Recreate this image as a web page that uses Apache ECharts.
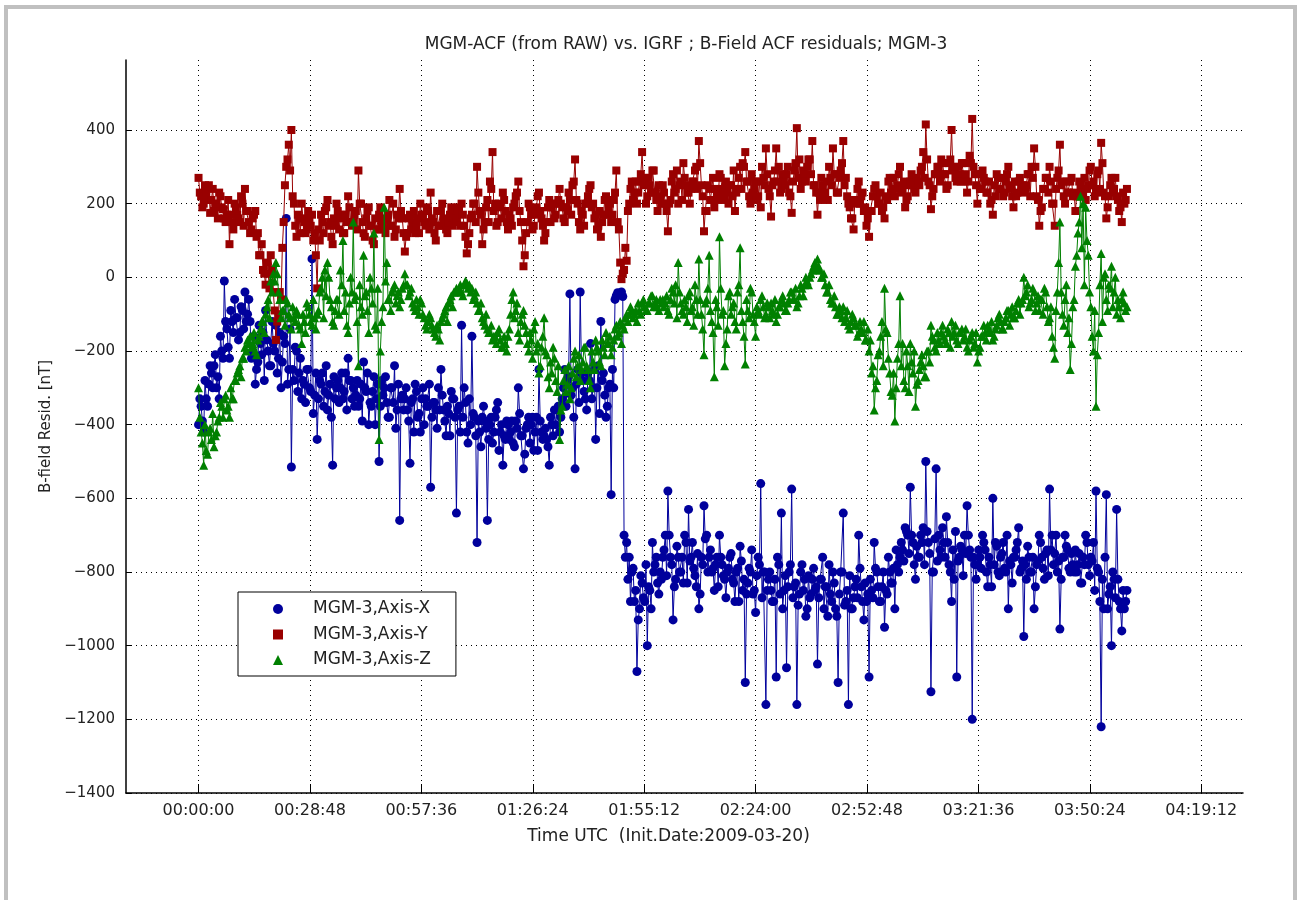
<!DOCTYPE html>
<html>
<head>
<meta charset="utf-8">
<title>MGM-ACF vs. IGRF residuals</title>
<script src="https://cdn.jsdelivr.net/npm/echarts@6/dist/echarts.min.js"></script>
<style>
  html, body { margin: 0; padding: 0; background: #fff; }
  #frame {
    position: absolute; left: 4px; top: 5px; width: 1293px; height: 1000px;
    box-sizing: border-box; border: 4px solid #c0c0c0; border-bottom: none;
  }
  #chart { position: absolute; left: 0; top: 0; width: 1297px; height: 900px; }
</style>
</head>
<body>
<div id="frame"></div>
<div id="chart"></div>
<script>
// readings every 40 s from 00:00:00, plus the readings half way (20 s later)
const SAMPLE_STEP = 40

const seriesNames = ['MGM-3,Axis-X', 'MGM-3,Axis-Y', 'MGM-3,Axis-Z']

// residuals [nT]
const axisX = [
  -400, -350, -420, -330, -290, -260, -240, -300, -330, -200, -10, -140, -220, -120, -60, -110, -150, -90, -40, -100,
  -120, -200, -290, -230, -180, -150, -90, -200, -240, -180, -130, -220, -300, -160, 160, -250, -515, -280, -200, -260,
  -330, -290, -250, -300, 50, -320, -440, -280, -260, -310, -360, -290, -510, -330, -280, -300, -330, -260, -220, -280,
  -300, -320, -350, -290, -230, -310, -400, -350, -270, -330, -500, -280, -300, -340, -380, -300, -240, -360, -660, -320,
  -330, -360, -505, -330, -290, -380, -420, -300, -330, -350, -570, -340, -360, -300, -250, -360, -430, -370, -310, -330,
  -640, -350, -130, -300, -420, -330, -160, -380, -720, -420, -380, -390, -660, -400, -450, -380, -340, -420, -510, -440,
  -400, -420, -450, -390, -300, -430, -520, -410, -380, -400, -470, -380, -250, -420, -430, -440, -510, -400, -360, -360,
  -420, -330, -250, -280, -45, -300, -520, -250, -40, -280, -330, -260, -180, -300, -440, -240, -120, -260, -380, -300,
  -590, -300, -50, -45, -40, -700, -720, -760, -800, -880, -1070, -900, -830, -880, -1000, -850, -720, -780, -830, -800,
  -760, -700, -580, -760, -930, -820, -760, -800, -830, -720, -630, -760, -790, -840, -900, -760, -620, -700, -760, -800,
  -850, -760, -700, -780, -820, -800, -760, -820, -880, -790, -730, -850, -1100, -830, -800, -860, -910, -760, -560, -800,
  -1160, -820, -850, -880, -1085, -780, -640, -850, -1060, -800, -575, -840, -1160, -860, -780, -820, -900, -870, -820, -850,
  -1050, -820, -760, -840, -920, -860, -800, -900, -1100, -800, -640, -880, -1160, -900, -870, -820, -700, -840, -930, -880,
  -1085, -850, -720, -800, -880, -840, -950, -860, -800, -830, -900, -780, -760, -740, -680, -700, -570, -720, -820, -760,
  -700, -680, -500, -720, -1125, -800, -520, -700, -760, -720, -650, -780, -880, -820, -1085, -760, -740, -700, -620, -740,
  -1200, -780, -780, -760, -700, -740, -840, -780, -600, -720, -800, -760, -720, -800, -900, -780, -760, -740, -680, -790,
  -975, -820, -760, -800, -900, -780, -700, -760, -820, -740, -575, -700, -750, -800, -955, -760, -700, -740, -800, -780,
  -740, -780, -830, -760, -700, -780, -760, -720, -580, -800, -1220, -900, -590, -860, -1000, -820, -630, -880, -960, -900,
  -850
]
const axisXMid = [
  -330, -390, -280, -350, -240, -300, -210, -270, -160, -220, -120, -190, -90, -150, -110, -170, -80, -140, -120, -60,
  -220, -160, -250, -130, -210, -280, -170, -240, -120, -200, -260, -150, -230, -180, -290, -140, -250, -190, -310, -220,
  -280, -340, -250, -310, -370, -260, -330, -290, -350, -240, -320, -380, -270, -300, -340, -260, -310, -360, -280, -330,
  -350, -280, -330, -390, -300, -260, -340, -310, -400, -290, -350, -320, -270, -380, -300, -340, -410, -290, -330, -360,
  -300, -390, -340, -420, -310, -370, -330, -400, -350, -290, -380, -340, -410, -360, -320, -390, -350, -430, -330, -380,
  -360, -420, -380, -340, -450, -400, -370, -430, -390, -460, -350, -410, -440, -380, -420, -360, -470, -400, -430, -390,
  -440, -390, -460, -410, -370, -430, -480, -400, -450, -380, -420, -470, -390, -440, -410, -460, -380, -430, -400, -350,
  -380, -300, -350, -270, -320, -380, -290, -340, -260, -310, -360, -280, -330, -250, -300, -370, -280, -320, -350, -290,
  -250, -60, -42, -48, -52, -760, -820, -880, -790, -850, -930, -810, -870, -780, -840, -900, -800, -760, -860, -820,
  -740, -810, -700, -780, -840, -730, -800, -760, -700, -830, -770, -720, -810, -750, -860, -780, -710, -800, -740, -790,
  -780, -840, -760, -810, -870, -790, -750, -830, -800, -880, -770, -820, -860, -790, -740, -850, -810, -780, -870, -800,
  -850, -800, -880, -820, -760, -860, -900, -810, -840, -780, -870, -830, -890, -800, -850, -920, -810, -860, -790, -840,
  -870, -820, -900, -840, -780, -880, -830, -920, -860, -800, -890, -850, -810, -900, -840, -870, -790, -880, -830, -860,
  -820, -870, -790, -840, -880, -800, -850, -760, -830, -790, -740, -800, -720, -770, -690, -750, -700, -780, -730, -760,
  -720, -780, -690, -750, -800, -710, -770, -740, -680, -760, -720, -800, -740, -690, -770, -730, -810, -750, -700, -760,
  -760, -820, -740, -790, -720, -800, -760, -840, -780, -730, -810, -750, -790, -700, -770, -830, -760, -720, -800, -770,
  -780, -730, -800, -760, -840, -770, -720, -790, -750, -810, -740, -780, -700, -770, -820, -760, -730, -790, -750, -800,
  -800, -750, -830, -780, -720, -810, -770, -850, -790, -880, -820, -760, -900, -840, -800, -870, -820, -900, -850, -880
]

const axisY = [
  270, 220, 200, 230, 250, 210, 180, 200, 230, 190, 160, 170, 90, 150, 200, 170, 150, 200, 240, 180,
  120, 160, 180, 120, 60, 20, -20, 10, 60, -40, -170, -100, -60, 150, 300, 360, 400, 200, 110, 160,
  200, 150, 130, 160, 170, 120, -30, 100, 150, 180, 210, 150, 90, 140, 180, 160, 120, 170, 220, 150,
  150, 180, 290, 200, 120, 160, 190, 140, 90, 130, 170, 150, 130, 160, 210, 140, 110, 170, 240, 160,
  70, 120, 170, 150, 120, 160, 200, 170, 140, 180, 230, 150, 100, 140, 180, 160, 130, 150, 190, 170,
  150, 180, 200, 140, 65, 120, 170, 200, 300, 180, 90, 150, 210, 260, 340, 200, 150, 190, 230, 180,
  130, 160, 190, 220, 260, 150, 30, 120, 200, 170, 140, 190, 230, 160, 100, 150, 210, 190, 160, 200,
  240, 190, 150, 180, 210, 250, 320, 200, 130, 170, 200, 220, 250, 200, 170, 140, 110, 170, 220, 190,
  150, 210, 290, 130, -5, 20, 45, 200, 260, 230, 200, 260, 340, 270, 220, 250, 290, 230, 180, 220,
  250, 200, 125, 210, 280, 240, 200, 260, 310, 250, 230, 240, 260, 300, 370, 250, 125, 180, 240, 210,
  190, 230, 280, 240, 210, 230, 250, 220, 180, 240, 300, 310, 340, 260, 200, 230, 260, 220, 190, 270,
  350, 240, 165, 260, 350, 300, 240, 260, 280, 230, 175, 290, 405, 320, 260, 280, 300, 320, 370, 250,
  170, 210, 250, 230, 210, 270, 350, 280, 230, 290, 370, 270, 200, 160, 130, 200, 260, 220, 180, 140,
  110, 180, 240, 220, 200, 180, 160, 210, 270, 240, 220, 250, 300, 240, 190, 220, 260, 250, 230, 260,
  290, 340, 415, 260, 185, 240, 280, 300, 320, 280, 240, 310, 400, 300, 260, 280, 310, 260, 230, 330,
  430, 280, 200, 240, 290, 260, 230, 200, 170, 220, 270, 240, 220, 260, 300, 240, 190, 220, 260, 240,
  230, 250, 280, 300, 350, 220, 140, 190, 240, 270, 300, 200, 140, 270, 360, 260, 200, 230, 260, 220,
  180, 220, 250, 230, 210, 250, 300, 260, 230, 290, 365, 230, 160, 220, 270, 240, 220, 180, 150, 200,
  240
]
const axisYMid = [
  230, 190, 250, 210, 175, 240, 200, 160, 220, 185, 150, 210, 170, 130, 190, 160, 220, 140, 180, 150,
  130, 170, 110, 60, 90, 10, 40, -30, 20, -90, -120, -40, 80, 250, 320, 290, 220, 140, 170, 120,
  160, 120, 180, 140, 100, 60, 130, 170, 120, 190, 140, 110, 160, 200, 130, 170, 120, 150, 190, 140,
  170, 130, 200, 150, 110, 180, 140, 100, 160, 130, 190, 150, 120, 170, 140, 200, 130, 160, 180, 120,
  110, 160, 130, 180, 140, 120, 170, 150, 190, 130, 160, 120, 180, 140, 200, 150, 120, 170, 140, 160,
  190, 140, 170, 110, 90, 160, 200, 150, 230, 170, 130, 190, 150, 240, 180, 140, 200, 160, 210, 150,
  170, 140, 200, 230, 180, 100, 60, 150, 190, 130, 170, 220, 180, 140, 120, 190, 150, 200, 170, 210,
  200, 160, 190, 230, 170, 260, 210, 150, 180, 140, 200, 240, 190, 160, 130, 180, 150, 210, 170, 200,
  170, 230, 150, 40, 10, 80, 180, 240, 210, 260, 230, 280, 250, 200, 270, 230, 290, 210, 250, 200,
  230, 180, 200, 260, 230, 290, 250, 210, 270, 230, 200, 260, 290, 240, 310, 220, 180, 250, 210, 270,
  240, 210, 270, 230, 260, 200, 250, 290, 230, 270, 240, 300, 260, 220, 280, 240, 210, 260, 300, 250,
  280, 220, 250, 290, 260, 230, 280, 250, 300, 220, 260, 310, 270, 240, 290, 260, 320, 280, 250, 230,
  230, 270, 220, 260, 300, 250, 280, 230, 270, 310, 250, 220, 190, 160, 210, 240, 200, 230, 190, 160,
  180, 220, 250, 200, 230, 190, 220, 260, 230, 270, 240, 280, 230, 260, 210, 250, 280, 240, 270, 250,
  300, 270, 320, 250, 220, 280, 300, 260, 310, 280, 250, 320, 290, 270, 300, 260, 310, 280, 260, 310,
  300, 250, 280, 240, 270, 230, 260, 210, 250, 280, 240, 270, 230, 280, 250, 220, 260, 230, 270, 250,
  240, 280, 220, 270, 300, 210, 180, 240, 270, 230, 260, 200, 240, 290, 250, 220, 260, 230, 270, 230,
  220, 260, 230, 270, 240, 290, 250, 220, 280, 240, 310, 220, 190, 250, 230, 270, 210, 190, 230, 210
]

const axisZ = [
  -300, -420, -510, -470, -420, -440, -460, -420, -380, -350, -330, -360, -380, -330, -280, -260, -240, -220, -190, -170,
  -160, -180, -200, -170, -140, -120, -100, -60, -10, 10, 40, -40, -110, -90, -60, -100, -140, -110, -90, -130,
  -180, -120, -70, -100, -130, -110, -100, -40, 0, 20, 40, -60, -120, -90, -60, 20, 100, -40, -150, 0,
  150, -50, -240, -80, 60, -40, -150, -30, 120, -140, -440, -120, 190, 40, -60, -40, -20, -50, -80, -30,
  10, -20, -40, -70, -90, -80, -60, -100, -130, -120, -110, -140, -160, -140, -120, -100, -80, -70, -50, -40,
  -30, -30, -40, -20, -15, -20, -30, -50, -70, -90, -110, -130, -140, -150, -170, -160, -150, -170, -190, -180,
  -160, -100, -40, -90, -150, -120, -90, -150, -200, -170, -140, -200, -260, -190, -110, -210, -300, -260, -220, -310,
  -440, -350, -250, -290, -330, -260, -200, -240, -280, -230, -190, -250, -300, -230, -170, -200, -240, -190, -150, -180,
  -210, -170, -130, -150, -180, -140, -100, -100, -90, -100, -120, -90, -70, -80, -90, -70, -50, -70, -80, -60,
  -60, -70, -90, -60, -40, -20, 40, -70, -100, -80, -50, -90, -130, -60, 50, -100, -210, -60, 60, -120,
  -270, -80, 110, -100, -240, -140, -40, -80, -120, -40, 80, -120, -235, -90, -30, -100, -160, -90, -60, -80,
  -100, -80, -70, -100, -120, -80, -60, -70, -90, -60, -40, -60, -80, -50, -30, -20, -10, 0, 20, 40,
  50, 20, 0, -20, -40, -60, -70, -80, -100, -90, -80, -110, -130, -120, -110, -130, -150, -140, -120, -170,
  -200, -260, -360, -280, -200, -120, -30, -150, -260, -320, -390, -220, -50, -180, -300, -240, -180, -260, -350, -280,
  -230, -240, -270, -200, -130, -170, -200, -170, -150, -160, -180, -150, -120, -150, -170, -150, -140, -160, -190, -170,
  -150, -180, -230, -190, -160, -150, -130, -150, -170, -140, -110, -120, -140, -110, -90, -100, -110, -90, -60, -70,
  0, -40, -80, -60, -40, -70, -90, -60, -30, -80, -110, -160, -220, -40, 150, -100, -60, -150, -250, -80,
  30, 120, 220, 200, 190, 60, -80, -200, -350, -150, 65, 0, -60, -20, 30, -40, -100, -80, -60, -70,
  -80
]
const axisZMid = [
  -380, -450, -400, -480, -410, -370, -430, -390, -340, -380, -320, -350, -300, -330, -280, -250, -270, -220, -200, -180,
  -190, -150, -210, -160, -120, -150, -80, -110, -40, -10, 10, -60, -90, -130, -70, -110, -80, -120, -100, -140,
  -100, -150, -80, -120, -60, -140, -90, -30, -110, -50, 0, -80, -130, -60, -100, -20, -90, -130, -70, -40,
  -60, -120, -20, -100, -50, -90, 0, -70, -130, -30, -200, -80, -10, -60, -90, -30, -70, -40, -60, -20,
  -20, -50, -30, -80, -60, -100, -70, -110, -140, -100, -130, -150, -130, -170, -110, -90, -120, -60, -80, -40,
  -40, -20, -50, -10, -30, -40, -60, -40, -90, -70, -120, -100, -150, -130, -160, -180, -140, -190, -160, -200,
  -140, -60, -110, -70, -170, -100, -130, -180, -150, -220, -120, -180, -240, -160, -200, -270, -230, -190, -280, -240,
  -360, -280, -310, -240, -300, -220, -270, -210, -250, -190, -240, -280, -200, -250, -190, -230, -170, -210, -180, -160,
  -190, -140, -160, -120, -130, -110, -120, -80, -110, -90, -70, -100, -60, -90, -70, -50, -80, -60, -90, -70,
  -80, -50, -100, -30, -70, -110, -40, -90, -60, -120, -40, -80, -20, -100, -60, -140, -70, -30, -90, -150,
  -60, -130, -30, -90, -180, -50, -100, -70, -140, -20, -90, -160, -60, -110, -40, -120, -80, -100, -50, -110,
  -70, -110, -90, -60, -100, -80, -50, -90, -70, -40, -60, -30, -70, -20, -50, 0, -20, 10, 30, 20,
  30, 0, 10, -40, -20, -70, -50, -100, -80, -110, -120, -90, -140, -100, -130, -160, -120, -150, -170, -140,
  -170, -240, -300, -210, -160, -240, -140, -220, -310, -260, -300, -180, -240, -280, -200, -310, -230, -200, -290, -250,
  -210, -270, -200, -230, -160, -190, -150, -180, -130, -170, -140, -190, -160, -130, -180, -150, -170, -140, -200, -160,
  -190, -150, -200, -160, -130, -170, -140, -120, -160, -130, -100, -140, -120, -90, -130, -80, -110, -70, -100, -60,
  -50, -20, -70, -30, -90, -50, -60, -100, -40, -120, -80, -190, -90, 40, -40, -130, -20, -110, -180, -60,
  60, 150, 80, -20, 100, -40, -160, -90, -210, -20, -120, 10, -90, -30, -80, 0, -60, -110, -40, -90
]

// tick positions
const timeTicks = [0, 1728, 3456, 5184, 6912, 8640, 10368, 12096, 13824, 15552]
const residTicks = [-1400, -1200, -1000, -800, -600, -400, -200, 0, 200, 400]

const colors = ['#00009c', '#990000', '#008000']
const symbols = ['circle', 'rect', 'triangle']
const symbolSizes = [9, 8, 9]
const FONT = 'DejaVu Sans'

const pad2 = n => String(n).padStart(2, '0')
const toHms = sec => {
  const h = Math.floor(sec / 3600)
  const m = Math.floor((sec % 3600) / 60)
  const s = Math.round(sec % 60)
  return pad2(h) + ':' + pad2(m) + ':' + pad2(s)
}
// matlab draws a real minus sign on the tick labels
const fmtResid = v => String(v).replace('-', '\u2212')

// [time, value] pairs, main readings and half-way readings in time order
const toPairs = (main, mid) => {
  const out = []
  main.forEach((v, i) => {
    out.push([i * SAMPLE_STEP, v])
    if (i < mid.length) out.push([i * SAMPLE_STEP + SAMPLE_STEP / 2, mid[i]])
  })
  return out
}

const chart = echarts.init(document.getElementById('chart'))

const option = {
  animation: false,
  textStyle: { fontFamily: FONT },
  title: {
    text: 'MGM-ACF (from RAW) vs. IGRF ; B-Field ACF residuals; MGM-3',
    left: 681,
    textAlign: 'center',
    top: 31,
    textStyle: { fontFamily: FONT, fontSize: 17, fontWeight: 'normal', color: '#222' }
  },
  grid: { left: 126, right: 54, top: 60, bottom: 107 },
  legend: {
    orient: 'vertical',
    left: 238,
    top: 592,
    selectedMode: false,
    data: seriesNames.map((n, i) => ({ name: n, icon: symbols[i] })),
    itemWidth: 10,
    itemHeight: 10,
    itemGap: 7.5,
    padding: [8, 25, 7, 35],
    borderColor: '#000',
    borderWidth: 1,
    backgroundColor: '#fff',
    textStyle: { fontFamily: FONT, fontSize: 17, color: '#222', lineHeight: 18, padding: [0, 0, 0, 25] }
  },
  xAxis: {
    type: 'value',
    min: -1125,
    max: 16200,
    name: 'Time UTC  (Init.Date:2009-03-20)',
    nameLocation: 'middle',
    nameGap: 35,
    nameTextStyle: { fontFamily: FONT, fontSize: 17, color: '#222', padding: [0, 32, 0, 0] },
    axisLine: { onZero: false, lineStyle: { color: '#000', width: 1.5 } },
    axisTick: { inside: true, length: 9, customValues: timeTicks, lineStyle: { color: '#000' } },
    axisLabel: { customValues: timeTicks, formatter: toHms, fontSize: 16, color: '#222', margin: 10 },
    splitLine: { show: true, lineStyle: { color: '#000', width: 1, type: [1, 4] } }
  },
  yAxis: {
    type: 'value',
    min: -1400,
    max: 590,
    name: 'B-field Resid. [nT]',
    nameLocation: 'middle',
    nameGap: 70,
    nameTextStyle: { fontFamily: FONT, fontSize: 15, color: '#222' },
    axisLine: { show: true, onZero: false, lineStyle: { color: '#000', width: 1.5 } },
    axisTick: { show: true, inside: true, length: 6, customValues: residTicks, lineStyle: { color: '#000' } },
    axisLabel: { customValues: residTicks, formatter: fmtResid, fontSize: 15, color: '#222', margin: 11 },
    splitLine: { show: true, lineStyle: { color: '#000', width: 1, type: [1, 4] } }
  },
  series: [[axisX, axisXMid], [axisY, axisYMid], [axisZ, axisZMid]].map(([main, mid], i) => ({
    name: seriesNames[i],
    type: 'line',
    data: toPairs(main, mid),
    symbol: symbols[i],
    symbolSize: symbolSizes[i],
    showSymbol: true,
    itemStyle: { color: colors[i] },
    lineStyle: { color: colors[i], width: 1 },
    emphasis: { disabled: true },
    z: 2 + i
  }))
}

chart.setOption(option)
</script>
</body>
</html>
